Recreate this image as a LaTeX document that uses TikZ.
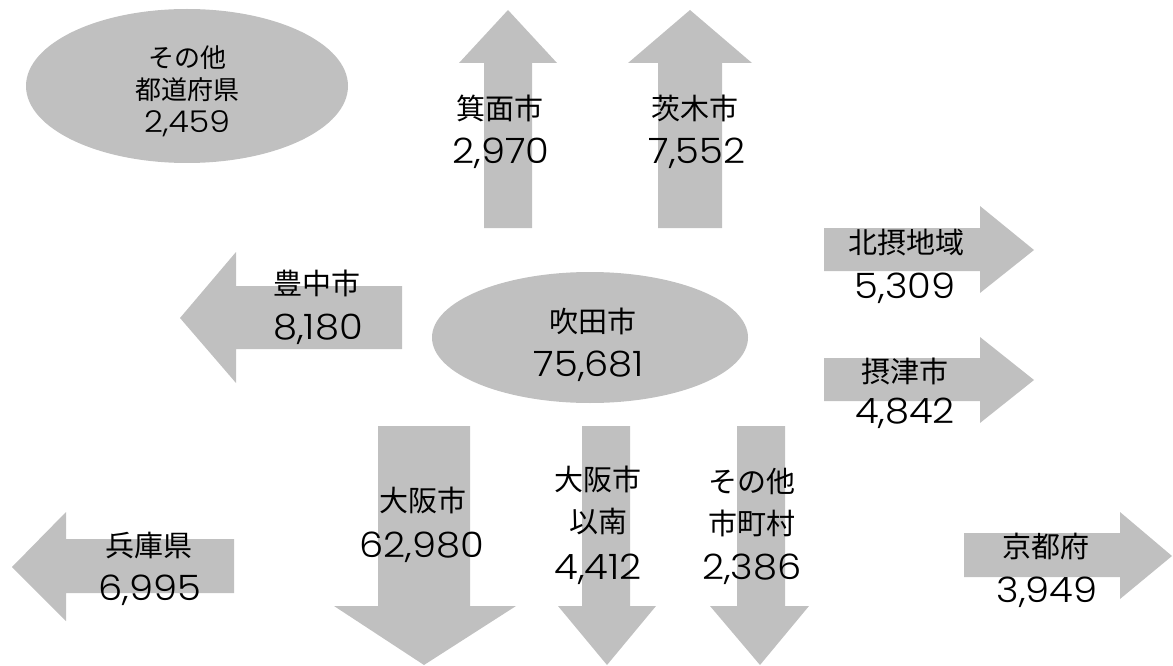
\documentclass[tikz,border=0pt]{standalone}
\usepackage{fontspec}
\setmainfont{Noto Sans CJK JP}
\newfontfamily\numfont{Poppins}[UprightFont=* Light,FakeStretch=1.1]
\definecolor{shapegray}{RGB}{192,192,192}
\begin{document}
\begin{tikzpicture}[x=1pt,y=-1pt,
  shapefill/.style={fill=shapegray,draw=none},
  jp/.style={font=\fontsize{29}{29}\selectfont,inner sep=0pt,text height=21.4pt,text depth=0pt,anchor=center},
  num/.style={font=\numfont\fontsize{35}{35}\selectfont,inner sep=0pt,text height=24.5pt,text depth=0pt,anchor=center},
  jps/.style={font=\fontsize{26}{26}\selectfont,inner sep=0pt,text height=19.2pt,text depth=0pt,anchor=center},
  nums/.style={font=\numfont\fontsize{30}{30}\selectfont,inner sep=0pt,text height=21pt,text depth=0pt,anchor=center}]
\useasboundingbox (0,0) rectangle (1173,666);
% ellipses
\fill[shapefill] (187,86) ellipse [x radius=161, y radius=77];
\fill[shapefill] (590,337.5) ellipse [x radius=158, y radius=65.5];
% up arrows
\fill[shapefill] (484,228) -- (484,63) -- (459,63) -- (508,10) -- (557,63) -- (532,63) -- (532,228) -- cycle;
\fill[shapefill] (658,228) -- (658,63) -- (628,63) -- (690,10) -- (752,63) -- (722,63) -- (722,228) -- cycle;
% right arrows
\fill[shapefill] (824,228) -- (980,228) -- (980,206) -- (1034,250) -- (980,293) -- (980,271) -- (824,271) -- cycle;
\fill[shapefill] (824,358) -- (980,358) -- (980,337) -- (1034,380) -- (980,423) -- (980,401) -- (824,401) -- cycle;
\fill[shapefill] (964,533) -- (1120,533) -- (1120,512) -- (1172,556) -- (1120,599) -- (1120,577) -- (964,577) -- cycle;
% left arrows
\fill[shapefill] (402,286) -- (236,286) -- (236,252) -- (180,318) -- (236,383) -- (236,349) -- (402,349) -- cycle;
\fill[shapefill] (234,539) -- (66,539) -- (66,512) -- (12,567) -- (66,621) -- (66,593) -- (234,593) -- cycle;
% down arrows
\fill[shapefill] (378,426) -- (470,426) -- (470,606) -- (516,606) -- (424,665) -- (334,606) -- (378,606) -- cycle;
\fill[shapefill] (582,426) -- (630,426) -- (630,606) -- (656,606) -- (607,665) -- (558,606) -- (582,606) -- cycle;
\fill[shapefill] (737,426) -- (785,426) -- (785,606) -- (809,606) -- (760,665) -- (710,606) -- (737,606) -- cycle;
% labels
\node[jps] (oth1) at (187,58) {その他};
\node[jps] (oth2) at (187,90) {都道府県};
\node[nums] (oth3) at (187,122) {2,459};
\node[jp] (mino1) at (500,109) {箕面市};
\node[num] (mino2) at (501,151) {2,970};
\node[jp] (ibar1) at (695,109) {茨木市};
\node[num] (ibar2) at (697,151) {7,552};
\node[jp] (hoku1) at (906,243) {北摂地域};
\node[num] (hoku2) at (905,286) {5,309};
\node[jp] (sett1) at (905,372) {摂津市};
\node[num] (sett2) at (905,411) {4,842};
\node[jp] (toyo1) at (317,284) {豊中市};
\node[num] (toyo2) at (318,327) {8,180};
\node[jp] (suita1) at (593,322) {吹田市};
\node[num] (suita2) at (589,364) {75,681};
\node[jp] (hyo1) at (149,546) {兵庫県};
\node[num] (hyo2) at (150,588) {6,995};
\node[jp] (osk1) at (423,501) {大阪市};
\node[num] (osk2) at (422,545) {62,980};
\node[jp] (south1) at (598,480) {大阪市};
\node[jp] (south2) at (598,522) {以南};
\node[num] (south3) at (598,567) {4,412};
\node[jp] (othm1) at (752,482) {その他};
\node[jp] (othm2) at (752,524) {市町村};
\node[num] (othm3) at (752,567) {2,386};
\node[jp] (kyo1) at (1046,547) {京都府};
\node[num] (kyo2) at (1047,590) {3,949};
\end{tikzpicture}
\end{document}
